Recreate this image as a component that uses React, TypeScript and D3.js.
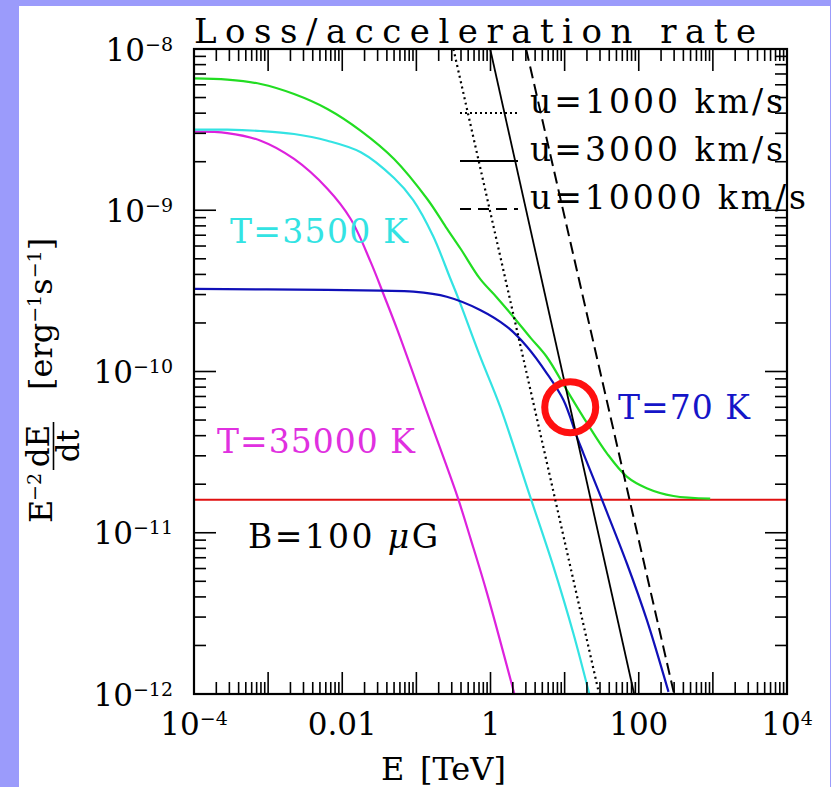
import React from 'react';
import * as d3 from 'd3';

// figure size and plot box
const W = 831, H = 787;
const box = { left: 194, right: 787, top: 49, bottom: 694 };

// energies in TeV, rates E^-2 dE/dt in erg^-1 s^-1
const totalE = [1e-4, 2.81e-4, 7.94e-4, 2.24e-3, 6.3e-3, 1.78e-2, 5.0e-2, 0.141, 0.25, 0.397, 0.724, 1.2, 2.04, 3.5, 5.75, 10.7, 20.0, 37.2, 69.0, 128, 294, 920];
const totalRate = [6.58e-9, 6.46e-9, 6.07e-9, 5.26e-9, 4.25e-9, 3.11e-9, 2.08e-9, 1.17e-9, 7.87e-10, 5.75e-10, 3.75e-10, 2.9e-10, 2.18e-10, 1.61e-10, 1.23e-10, 7.67e-11, 4.8e-11, 3.11e-11, 2.23e-11, 1.89e-11, 1.69e-11, 1.63e-11];

const t3500E = [1e-4, 2.81e-4, 7.94e-4, 2.24e-3, 6.3e-3, 1.78e-2, 5.0e-2, 0.0902, 0.168, 0.285, 0.366, 0.724, 1.35, 3.42, 7.06, 13.1, 21.5];
const t3500Rate = [3.16e-9, 3.16e-9, 3.10e-9, 2.97e-9, 2.70e-9, 2.29e-9, 1.585e-9, 1.16e-9, 6.92e-10, 3.8e-10, 2.86e-10, 1.24e-10, 6.05e-11, 1.68e-11, 6.16e-12, 2.38e-12, 1.0e-12];

const t35000E = [1e-4, 2.81e-4, 7.94e-4, 2.24e-3, 6.3e-3, 1.30e-2, 2.43e-2, 3.66e-2, 5.54e-2, 0.1406, 0.357, 0.542, 0.891, 2.1];
const t35000Rate = [3.07e-9, 3.01e-9, 2.70e-9, 2.08e-9, 1.36e-9, 8.83e-10, 4.75e-10, 2.96e-10, 1.81e-10, 5.51e-11, 1.68e-11, 9.1e-12, 4.27e-12, 1.0e-12];

const t70E = [1e-4, 6.3e-3, 3.31e-2, 9.12e-2, 0.257, 0.724, 1.66, 3.09, 5.75, 9.64, 14.6, 17.9, 33.4, 69.0, 128.5, 252];
const t70Rate = [3.25e-10, 3.21e-10, 3.17e-10, 3.13e-10, 2.91e-10, 2.41e-10, 1.90e-10, 1.43e-10, 9.75e-11, 6.65e-11, 3.95e-11, 3.11e-11, 1.52e-11, 6.47e-12, 2.88e-12, 1.03e-12];

const syncE = [1e-4, 1e4];
const syncRate = [1.6e-11, 1.6e-11];

// acceleration rates for three shock speeds
const accRate = [1e-8, 1e-12];
const acc1000E = [0.316, 29.2];
const acc3000E = [0.99, 86.7];
const acc10000E = [3.02, 300];

// highlighted crossing point
const markE = 11.9;
const markRate = 6.0e-11;

const xLabels = [
  { v: 1e-4, base: '10', exp: '−4' },
  { v: 1e-2, base: '0.01', exp: '' },
  { v: 1, base: '1', exp: '' },
  { v: 100, base: '100', exp: '' },
  { v: 1e4, base: '10', exp: '4' },
];
const yLabels = [
  { v: 1e-8, exp: '−8' },
  { v: 1e-9, exp: '−9' },
  { v: 1e-10, exp: '−10' },
  { v: 1e-11, exp: '−11' },
  { v: 1e-12, exp: '−12' },
];

const legend = [
  { label: 'u=1000 km/s', dash: '2 3', len: 253 },
  { label: 'u=3000 km/s', dash: '', len: 253 },
  { label: 'u=10000 km/s', dash: '11 7', len: 276 },
];

const serif = "'DejaVu Serif', serif";

const zip = (e: number[], r: number[]) => e.map((v, i) => ({ E: v, r: r[i] }));

export default function App() {
  const x = d3.scaleLog().domain([1e-4, 1e4]).range([box.left, box.right]);
  const y = d3.scaleLog().domain([1e-12, 1e-8]).range([box.bottom, box.top]);

  const line = d3.line<{ E: number; r: number }>()
    .x(d => x(d.E))
    .y(d => y(d.r))
    .curve(d3.curveCatmullRom.alpha(0.5));
  const straight = d3.line<{ E: number; r: number }>().x(d => x(d.E)).y(d => y(d.r));

  const isMajor = (t: number) => Math.abs(Math.log10(t) - Math.round(Math.log10(t))) < 1e-6;
  const xt = x.ticks();
  const yt = y.ticks();
  const maj = 22, mnr = 12;

  const curves = [
    { d: zip(t35000E, t35000Rate), c: '#dd22dd' },
    { d: zip(t3500E, t3500Rate), c: '#33e3e3' },
    { d: zip(t70E, t70Rate), c: '#1010b8' },
    { d: zip(totalE, totalRate), c: '#22dd22' },
  ];

  return (
    <svg width={W} height={H} style={{ position: 'absolute', left: 0, top: 0 }}>
      <rect x={0} y={0} width={W} height={H} fill="#9b9bfb" />
      <rect x={19} y={6} width={811} height={781} fill="#fff" />
      <defs>
        <clipPath id="plotclip">
          <rect x={box.left} y={box.top} width={box.right - box.left} height={box.bottom - box.top} />
        </clipPath>
      </defs>

      {/* title */}
      <text x={194} y={43} fontFamily={serif} fontSize={34} fill="#000" textLength={562} lengthAdjust="spacing">Loss/acceleration rate</text>

      <g clipPath="url(#plotclip)" fill="none">
        <path d={straight(zip(syncE, syncRate)) || ''} stroke="#e01010" strokeWidth={2} />
        {curves.map((c, i) => (
          <path key={i} d={line(c.d) || ''} stroke={c.c} strokeWidth={2.2} />
        ))}
        <path d={straight(zip(acc1000E, accRate)) || ''} stroke="#000" strokeWidth={2.2} strokeDasharray="2 3.5" />
        <path d={straight(zip(acc3000E, accRate)) || ''} stroke="#000" strokeWidth={1.8} />
        <path d={straight(zip(acc10000E, accRate)) || ''} stroke="#000" strokeWidth={2} strokeDasharray="12 6" />
      </g>

      {/* ticks, inward on all sides */}
      <g stroke="#000" strokeWidth={1.6}>
        {xt.map((t, i) => {
          const len = isMajor(t) ? maj : mnr;
          const px = x(t);
          return (
            <g key={'x' + i}>
              <line x1={px} x2={px} y1={box.bottom} y2={box.bottom - len} />
              <line x1={px} x2={px} y1={box.top} y2={box.top + len} />
            </g>
          );
        })}
        {yt.map((t, i) => {
          const len = isMajor(t) ? maj : mnr;
          const py = y(t);
          return (
            <g key={'y' + i}>
              <line x1={box.left} x2={box.left + len} y1={py} y2={py} />
              <line x1={box.right} x2={box.right - len} y1={py} y2={py} />
            </g>
          );
        })}
      </g>
      <rect x={box.left} y={box.top} width={box.right - box.left} height={box.bottom - box.top}
        fill="none" stroke="#000" strokeWidth={2.2} />

      {/* tick labels */}
      {xLabels.map((l, i) => (
        <text key={'xl' + i} x={x(l.v)} y={735} textAnchor="middle" fontFamily={serif} fontSize={31} fill="#000">
          {l.base}
          {l.exp && <tspan fontSize={19} dy={-10}>{l.exp}</tspan>}
        </text>
      ))}
      {yLabels.map((l, i) => (
        <text key={'yl' + i} x={173} y={y(l.v) + 11.5} textAnchor="end" fontFamily={serif} fontSize={31} fill="#000">
          10<tspan fontSize={19} dy={-10}>{l.exp}</tspan>
        </text>
      ))}

      {/* axis titles */}
      <text x={381} y={780} fontFamily={serif} fontSize={32} fill="#000">E</text>
      <text x={420} y={780} fontFamily={serif} fontSize={32} fill="#000">[TeV]</text>

      <g transform="translate(52,523) rotate(-90)" fontFamily={serif} fill="#000">
        <text x={0} y={0} fontSize={32}>E</text>
        <text x={22} y={-11} fontSize={19}>−2</text>
        <text x={77} y={-3} fontSize={31} textAnchor="middle">dE</text>
        <line x1={53} x2={101} y1={1.5} y2={1.5} stroke="#000" strokeWidth={1.6} />
        <text x={77} y={27} fontSize={31} textAnchor="middle">dt</text>
        <text x={133} y={0} fontSize={32}>
          [erg<tspan fontSize={19} dy={-11}>−1</tspan>
          <tspan dy={11}>s</tspan>
          <tspan fontSize={19} dy={-11}>−1</tspan>
          <tspan dy={11}>]</tspan>
        </text>
      </g>

      {/* legend */}
      {legend.map((l, i) => {
        const ly = 113 + i * 48;
        return (
          <g key={'lg' + i}>
            <line x1={460} x2={518} y1={ly} y2={ly} stroke="#000" strokeWidth={l.dash === '2 3' ? 2 : 1.8} strokeDasharray={l.dash} />
            <text x={530} y={ly} fontFamily={serif} fontSize={33} fill="#000" textLength={l.len} lengthAdjust="spacing">{l.label}</text>
          </g>
        );
      })}

      {/* curve labels */}
      <text x={230} y={243} fontFamily={serif} fontSize={33} fill="#33e3e3" textLength={178} lengthAdjust="spacing">T=3500 K</text>
      <text x={217} y={453} fontFamily={serif} fontSize={33} fill="#e030e0" textLength={198} lengthAdjust="spacing">T=35000 K</text>
      <text x={618} y={419} fontFamily={serif} fontSize={33} fill="#1515c8" textLength={132} lengthAdjust="spacing">T=70 K</text>
      <text x={248} y={548} fontFamily={serif} fontSize={33} fill="#000" textLength={190} lengthAdjust="spacing">
        B=100 <tspan fontStyle="italic">μ</tspan>G
      </text>

      {/* highlight */}
      <circle cx={x(markE)} cy={y(markRate)} r={25.5} fill="none" stroke="#ff1010" strokeWidth={7} />
    </svg>
  );
}
